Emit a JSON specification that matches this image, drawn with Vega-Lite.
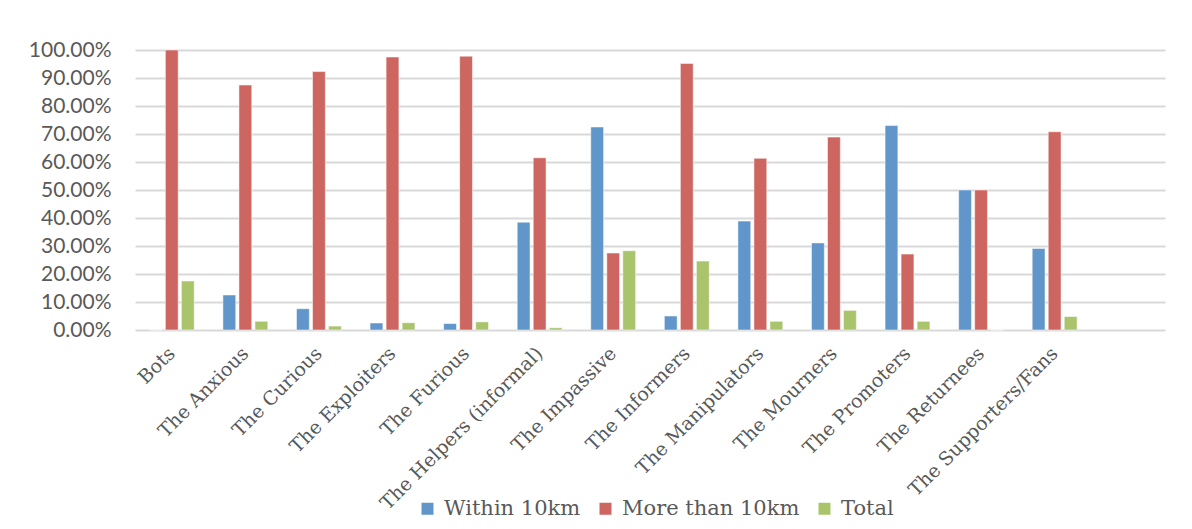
{
  "$schema": "https://vega.github.io/schema/vega-lite/v6.json",
  "width": 1030,
  "height": 280,
  "autosize": "none",
  "padding": {"left": 135, "top": 50, "right": 27, "bottom": 199},
  "background": "white",
  "data": {
    "values": [
      {"category": "Bots", "series": "Within 10km", "value": 0},
      {"category": "Bots", "series": "More than 10km", "value": 1.0},
      {"category": "Bots", "series": "Total", "value": 0.175},
      {"category": "The Anxious", "series": "Within 10km", "value": 0.125},
      {"category": "The Anxious", "series": "More than 10km", "value": 0.875},
      {"category": "The Anxious", "series": "Total", "value": 0.031},
      {"category": "The Curious", "series": "Within 10km", "value": 0.076},
      {"category": "The Curious", "series": "More than 10km", "value": 0.923},
      {"category": "The Curious", "series": "Total", "value": 0.014},
      {"category": "The Exploiters", "series": "Within 10km", "value": 0.025},
      {"category": "The Exploiters", "series": "More than 10km", "value": 0.975},
      {"category": "The Exploiters", "series": "Total", "value": 0.026},
      {"category": "The Furious", "series": "Within 10km", "value": 0.023},
      {"category": "The Furious", "series": "More than 10km", "value": 0.978},
      {"category": "The Furious", "series": "Total", "value": 0.029},
      {"category": "The Helpers (informal)", "series": "Within 10km", "value": 0.385},
      {"category": "The Helpers (informal)", "series": "More than 10km", "value": 0.615},
      {"category": "The Helpers (informal)", "series": "Total", "value": 0.008},
      {"category": "The Impassive", "series": "Within 10km", "value": 0.725},
      {"category": "The Impassive", "series": "More than 10km", "value": 0.275},
      {"category": "The Impassive", "series": "Total", "value": 0.283},
      {"category": "The Informers", "series": "Within 10km", "value": 0.05},
      {"category": "The Informers", "series": "More than 10km", "value": 0.952},
      {"category": "The Informers", "series": "Total", "value": 0.246},
      {"category": "The Manipulators", "series": "Within 10km", "value": 0.389},
      {"category": "The Manipulators", "series": "More than 10km", "value": 0.613},
      {"category": "The Manipulators", "series": "Total", "value": 0.031},
      {"category": "The Mourners", "series": "Within 10km", "value": 0.311},
      {"category": "The Mourners", "series": "More than 10km", "value": 0.689},
      {"category": "The Mourners", "series": "Total", "value": 0.07},
      {"category": "The Promoters", "series": "Within 10km", "value": 0.73},
      {"category": "The Promoters", "series": "More than 10km", "value": 0.271},
      {"category": "The Promoters", "series": "Total", "value": 0.031},
      {"category": "The Returnees", "series": "Within 10km", "value": 0.5},
      {"category": "The Returnees", "series": "More than 10km", "value": 0.5},
      {"category": "The Returnees", "series": "Total", "value": 0},
      {"category": "The Supporters/Fans", "series": "Within 10km", "value": 0.291},
      {"category": "The Supporters/Fans", "series": "More than 10km", "value": 0.708},
      {"category": "The Supporters/Fans", "series": "Total", "value": 0.048}
    ]
  },
  "mark": {"type": "bar", "stroke": "#ffffff", "strokeWidth": 1, "strokeOpacity": 0.5},
  "encoding": {
    "x": {
      "field": "category",
      "type": "nominal",
      "sort": null,
      "scale": {
        "domain": ["Bots", "The Anxious", "The Curious", "The Exploiters", "The Furious", "The Helpers (informal)", "The Impassive", "The Informers", "The Manipulators", "The Mourners", "The Promoters", "The Returnees", "The Supporters/Fans", ""],
        "paddingInner": 0.39,
        "paddingOuter": 0.195
      },
      "axis": {
        "title": null,
        "domain": false,
        "ticks": false,
        "labelAngle": -45,
        "labelAlign": "right",
        "labelBaseline": "middle",
        "labelFont": "DejaVu Serif",
        "labelFontSize": 19,
        "labelColor": "#595959",
        "labelPadding": 20,
        "labelLimit": 0,
        "labelOverlap": false
      }
    },
    "xOffset": {
      "field": "series",
      "sort": ["Within 10km", "More than 10km", "Total"],
      "scale": {"domain": ["Within 10km", "More than 10km", "Total"], "paddingInner": 0.2}
    },
    "y": {
      "field": "value",
      "type": "quantitative",
      "scale": {"domain": [0, 1]},
      "axis": {
        "title": null,
        "format": ".2%",
        "values": [0, 0.1, 0.2, 0.3, 0.4, 0.5, 0.6, 0.7, 0.8, 0.9, 1.0],
        "domain": false,
        "ticks": false,
        "labelFont": "Lato",
        "labelFontSize": 21,
        "labelColor": "#595959",
        "labelPadding": 24,
        "gridColor": "#D9D9D9",
        "gridWidth": 2
      }
    },
    "color": {
      "field": "series",
      "type": "nominal",
      "scale": {
        "domain": ["Within 10km", "More than 10km", "Total"],
        "range": ["#6096CA", "#CD6660", "#A9C46B"]
      },
      "legend": {
        "title": null,
        "orient": "none",
        "legendX": 282,
        "legendY": 448,
        "direction": "horizontal",
        "symbolType": "square",
        "symbolSize": 144,
        "symbolStrokeWidth": 0,
        "labelFont": "DejaVu Serif",
        "labelFontSize": 21,
        "labelColor": "#595959",
        "labelOffset": 6,
        "labelLimit": 0,
        "columnPadding": 14
      }
    }
  },
  "config": {"view": {"stroke": null}}
}
